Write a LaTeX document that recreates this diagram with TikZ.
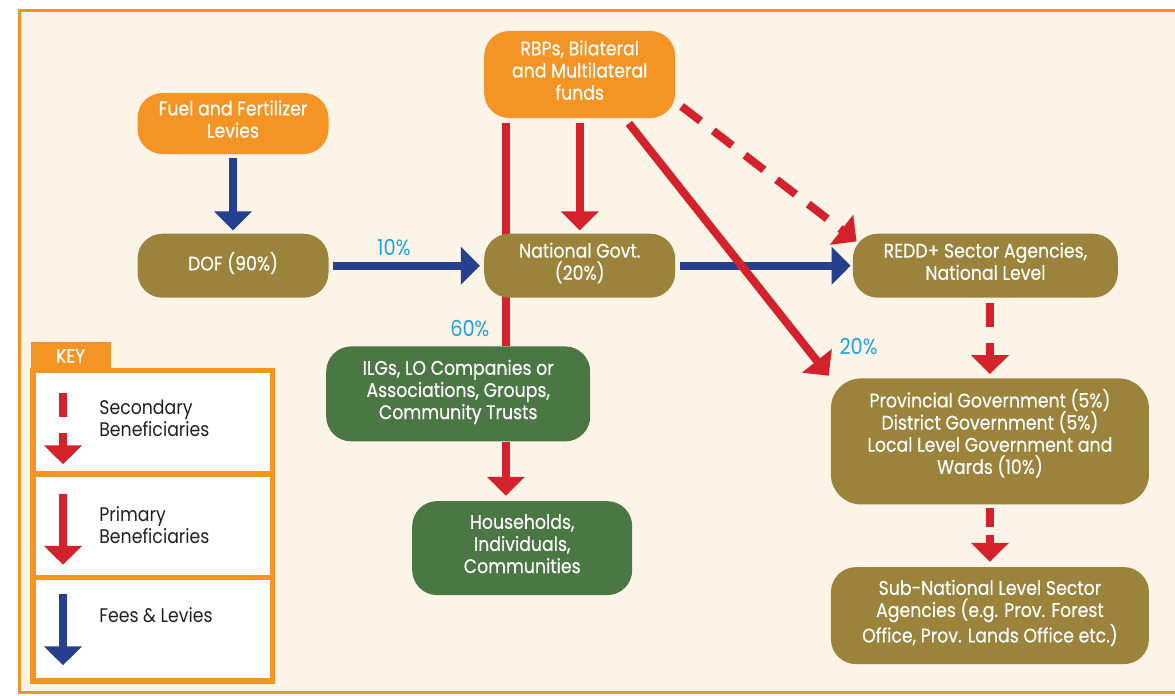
\documentclass[tikz,border=0pt]{standalone}
\usepackage{fontspec}
\setmainfont{Poppins}[FakeStretch=0.88]
\newfontfamily\boxfont{Poppins}[FakeStretch=0.88, FakeBold=0.4]
\usepackage{tikz}
\usetikzlibrary{arrows.meta, positioning, backgrounds}

\definecolor{fundorange}{HTML}{F39425}
\definecolor{olive}{HTML}{9B833C}
\definecolor{leaf}{HTML}{4B7744}
\definecolor{cream}{HTML}{FDF4E8}
\definecolor{flowred}{HTML}{D4212B}
\definecolor{levyblue}{HTML}{263F8E}
\definecolor{pctblue}{HTML}{1BA3E6}
\definecolor{keygray}{HTML}{231F20}

\begin{document}
\begin{tikzpicture}[
            box/.style={rectangle, rounded corners=0.5cm, text=white, align=center, minimum width=3.82cm, minimum height=1.28cm, inner sep=0.1cm, text depth=0.18cm, font=\boxfont\fontsize{11.2}{12.6}\selectfont},
            fund/.style={box, fill=fundorange},
            agency/.style={box, fill=olive},
            community/.style={box, fill=leaf},
            primary/.style={draw=flowred, line width=0.16cm, -{Triangle[width=0.74cm, length=0.38cm]}},
            secondary/.style={primary, dash pattern=on 0.48cm off 0.32cm},
            levy/.style={primary, draw=levyblue},
            pct/.style={text=pctblue, inner sep=0.1cm, font=\fontsize{12.5}{13}\selectfont},
            keyrow/.style={rectangle, draw=fundorange, fill=white, line width=0.11cm, outer sep=0pt, minimum width=4.79cm, minimum height=2.07cm},
            keytab/.style={rectangle, fill=fundorange, text=white, minimum width=1.6cm, minimum height=0.56cm, inner sep=0pt, font=\boxfont\fontsize{11}{12}\selectfont},
            keytext/.style={align=left, text=keygray, anchor=west, inner sep=0pt, font=\fontsize{11.2}{12.6}\selectfont}
        ]
            \useasboundingbox (0,0) rectangle (23.5,-13.9);

            \node[fund, minimum height=1.22cm] (fuel) at (4.66,-2.47) {Fuel and Fertilizer\\Levies};
            \node[agency, below=1.58cm of fuel] (dof) {DOF (90\%)};
            \node[agency, right=3.1cm of dof] (nat) {National Govt.\\(20\%)};
            \node[agency, right=3.54cm of nat, minimum width=5.3cm] (redd) {REDD+ Sector Agencies,\\National Level};
            \node[fund, above=2.3cm of nat, minimum height=1.74cm] (rbps) {RBPs, Bilateral\\and Multilateral\\funds};
            \node[agency, below=1.6cm of redd, xshift=0.09cm, minimum width=6.36cm, minimum height=2.52cm, rounded corners=0.6cm, text depth=0.4cm] (prov) {Provincial Government (5\%)\\District Government (5\%)\\Local Level Government and\\Wards (10\%)};
            \node[agency, below=1.24cm of prov, minimum width=6.36cm, minimum height=1.94cm] (sub) {Sub-National Level Sector\\Agencies (e.g. Prov. Forest\\Office, Prov. Lands Office etc.)};
            \node[community, below=0.96cm of nat, xshift=-2.43cm, minimum width=5.28cm, minimum height=1.9cm] (ilgs) {ILGs, LO Companies or\\Associations, Groups,\\Community Trusts};
            \node[community, below=1.18cm of ilgs, xshift=1.28cm, minimum width=4.4cm, minimum height=1.88cm] (house) {Households,\\Individuals,\\Communities};

            \coordinate (rtop) at ([xshift=0.44cm, yshift=-0.1cm]rbps.south west);

            \draw[levy, shorten <=0.08cm, shorten >=0.06cm] (fuel) -- (dof);
            \draw[levy, shorten <=0.08cm, shorten >=0.08cm] (dof) -- node[pct, above=0.02cm, pos=0.42] {10\%} (nat);
            \draw[levy, shorten <=0.08cm, shorten >=0.04cm] (nat) -- (redd);
            \draw[primary, shorten <=0.1cm, shorten >=0.06cm] (rbps) -- (nat);
            \draw[primary, shorten >=0.1cm] (rtop |- ilgs.south) -- (rtop |- house.north);
            \draw[primary, shorten >=0.06cm] ([xshift=2.9cm, yshift=-0.1cm]rbps.south west) -- node[pct, pos=1, above right=0.28cm and 0cm] {20\%} (prov.north west);
            \draw[secondary] ([xshift=0.12cm, yshift=0.24cm]rbps.south east) -- ([xshift=0.08cm, yshift=-0.16cm]redd.north west);
            \draw[secondary, shorten <=0.1cm, shorten >=0.08cm] (prov.north |- redd.south) -- (prov.north);
            \draw[secondary, dash pattern=on 0.38cm off 0.16cm, shorten <=0.06cm, shorten >=0.1cm] (prov) -- (sub);

            \node[keyrow] (keysec) at (3.055,-8.44) {};
            \node[keyrow, below=0cm of keysec] (keypri) {};
            \node[keyrow, below=0cm of keypri] (keyfee) {};
            \node[keytab, anchor=south west] (keytitle) at ([xshift=-0.055cm]keysec.north west) {KEY};
            \node[keytext] (tsec) at ([xshift=1.32cm, yshift=0.08cm]keysec.west) {Secondary\\Beneficiaries};
            \node[keytext] (tpri) at ([xshift=1.32cm]keypri.west) {Primary\\Beneficiaries};
            \node[keytext] (tfee) at ([xshift=1.32cm, yshift=0.28cm]keyfee.west) {Fees \& Levies};
            \draw[secondary] ([xshift=0.6cm, yshift=-0.46cm]keysec.north west) -- ([xshift=0.6cm, yshift=-1.88cm]keysec.north west);
            \draw[primary] ([xshift=0.6cm, yshift=-0.4cm]keypri.north west) -- ([xshift=0.6cm, yshift=-1.82cm]keypri.north west);
            \draw[levy] ([xshift=0.6cm, yshift=-0.34cm]keyfee.north west) -- ([xshift=0.6cm, yshift=-1.76cm]keyfee.north west);

            \begin{scope}[on background layer]
                \fill[white] (0,0) rectangle (23.5,-13.9);
                \fill[cream] (0.38,-0.2) rectangle (23.8,-13.84);
                \draw[fundorange, line width=0.06cm] (0.38,-0.2) rectangle (23.8,-13.84);
                \draw[flowred, line width=0.16cm] (rtop) -- node[pct, left=0.15cm, pos=0.92] {60\%} (rtop |- ilgs.north);
            \end{scope}
        \end{tikzpicture}
\end{document}
